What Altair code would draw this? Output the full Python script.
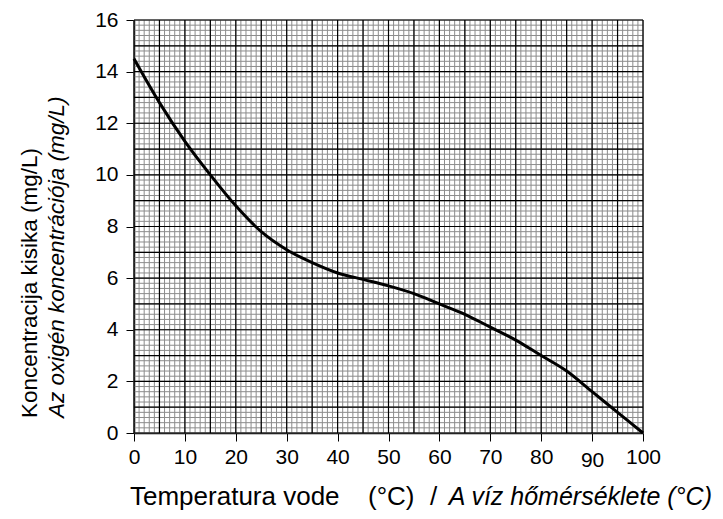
import altair as alt
import pandas as pd

# Data
temps = [0, 5, 10, 15, 20, 25, 30, 35, 40, 45, 50, 55, 60, 65, 70, 75, 80, 85, 90, 95, 100]
oxygen = [14.5, 12.8, 11.3, 10.0, 8.8, 7.8, 7.1, 6.6, 6.2, 5.95, 5.7, 5.4, 5.0, 4.6, 4.1, 3.6, 3.0, 2.4, 1.6, 0.8, 0.0]

x_ticks = [0, 10, 20, 30, 40, 50, 60, 70, 80, 90, 100]
y_ticks = [0, 2, 4, 6, 8, 10, 12, 14, 16]
x_minor = list(range(0, 101, 1))
y_minor = [round(i * 0.2, 1) for i in range(0, 81)]
x_major = list(range(0, 101, 5))
y_major = list(range(0, 17, 1))

y_title_1 = "Koncentracija kisika (mg/L)"
y_title_2 = "Az oxigén koncentrációja (mg/L)"
x_title_1a = "Temperatura vode"
x_title_1b = "(°C)"
x_title_1c = "/"
x_title_2 = "A víz hőmérséklete (°C)"

FONT = "Liberation Sans"
FS = 21
TFS = 22.5
XFS = 26
XIFS = 25
W, H = 509, 413

xs = alt.Scale(domain=[0, 100], nice=False, zero=False)
ys = alt.Scale(domain=[0, 16], nice=False, zero=False)

x_axis = alt.Axis(
    values=x_ticks, title=None, grid=False, domainColor="black", domainWidth=1.5,
    tickColor="black", tickSize=8, tickWidth=1,
    labelFont=FONT, labelFontSize=FS, labelColor="black", labelAngle=0,
    labelPadding={"condition": {"test": "datum.value === 90", "value": 8}, "value": 5},
    labelFlush=False, labelOverlap=False)
y_axis = alt.Axis(
    values=y_ticks, title=None, grid=False, domainColor="black", domainWidth=1.5,
    tickColor="black", tickSize=8, tickWidth=1,
    labelFont=FONT, labelFontSize=FS, labelColor="black", labelPadding=8,
    labelFlush=False, labelOverlap=False)

curve_df = pd.DataFrame({"t": temps, "o": oxygen})

line = alt.Chart(curve_df).mark_line(color="black", strokeWidth=3, interpolate="monotone").encode(
    x=alt.X("t:Q", scale=xs, axis=x_axis),
    y=alt.Y("o:Q", scale=ys, axis=y_axis),
)

minor_v = alt.Chart(pd.DataFrame({"t": x_minor})).mark_rule(color="#8c8c8c", strokeWidth=1).encode(
    x=alt.X("t:Q", scale=xs, axis=x_axis))
minor_h = alt.Chart(pd.DataFrame({"o": y_minor})).mark_rule(color="#8c8c8c", strokeWidth=1).encode(
    y=alt.Y("o:Q", scale=ys, axis=y_axis))
major_v = alt.Chart(pd.DataFrame({"t": x_major})).mark_rule(color="#000000", strokeWidth=1.2).encode(
    x=alt.X("t:Q", scale=xs, axis=x_axis))
major_h = alt.Chart(pd.DataFrame({"o": y_major})).mark_rule(color="#000000", strokeWidth=1.2).encode(
    y=alt.Y("o:Q", scale=ys, axis=y_axis))

one = pd.DataFrame({"a": [0]})
yt1 = alt.Chart(one).mark_text(text=y_title_1, font=FONT, fontSize=TFS, angle=270,
                               align="left", baseline="alphabetic", color="black").encode(
    x=alt.value(-97), y=alt.value(398))
yt2 = alt.Chart(one).mark_text(text=y_title_2, font=FONT, fontSize=TFS, fontStyle="italic", angle=270,
                               align="left", baseline="alphabetic", color="black").encode(
    x=alt.value(-70), y=alt.value(398))
xt1a = alt.Chart(one).mark_text(text=x_title_1a, font=FONT, fontSize=XFS,
                                align="left", baseline="alphabetic", color="black").encode(
    x=alt.value(-4), y=alt.value(485))
xt1b = alt.Chart(one).mark_text(text=x_title_1b, font=FONT, fontSize=XFS,
                                align="left", baseline="alphabetic", color="black").encode(
    x=alt.value(234), y=alt.value(485))
xt1c = alt.Chart(one).mark_text(text=x_title_1c, font=FONT, fontSize=XFS,
                                align="left", baseline="alphabetic", color="black").encode(
    x=alt.value(296), y=alt.value(485))
xt2 = alt.Chart(one).mark_text(text=x_title_2, font=FONT, fontSize=XIFS, fontStyle="italic",
                               align="right", baseline="alphabetic", color="black").encode(
    x=alt.value(578), y=alt.value(485))

chart = alt.layer(minor_v, minor_h, major_v, major_h, line, yt1, yt2, xt1a, xt1b, xt1c, xt2).properties(
    width=W, height=H,
    autosize=alt.AutoSizeParams(type="none"),
    padding={"left": 126, "top": 12, "right": 72, "bottom": 78},
).configure_view(stroke=None).configure(background="white")

chart.save("out.html", embed_options={"renderer": "svg", "actions": False})
